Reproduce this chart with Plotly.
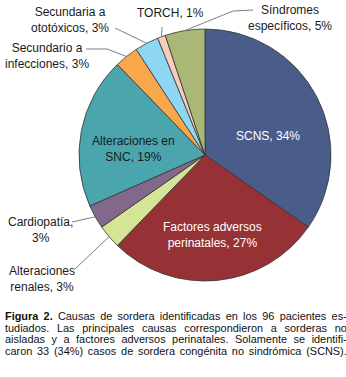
import math
import plotly.graph_objects as go

# ---- data ----
categories = ["SCNS", "Factores adversos perinatales", "Alteraciones renales", "Cardiopatía",
              "Alteraciones en SNC", "Secundario a infecciones", "Secundaria a ototóxicos",
              "TORCH", "Síndromes específicos"]
percent_values = [34, 27, 3, 3, 19, 3, 3, 1, 5]
label_texts = ["SCNS, 34%", "Factores adversos<br>perinatales, 27%", "Alteraciones<br>renales, 3%",
               "Cardiopatía,<br>3%", "Alteraciones en<br>SNC, 19%", "Secundario a<br>infecciones, 3%",
               "Secundaria a<br>ototóxicos, 3%", "TORCH, 1%", "Síndromes<br>específicos, 5%"]
caption_bold = ["Figura 2.", "", "", ""]
caption_lines = [
    "Causas de sordera identificadas en los 96 pacientes es-",
    "tudiados. Las principales causas correspondieron a sorderas no",
    "aisladas y a factores adversos perinatales. Solamente se identifi-",
    "caron 33 (34%) casos de sordera congénita no sindrómica (SCNS).",
]

# ---- styling / layout ----
W, H = 346, 377
colors = ["#4A5D8A", "#963236", "#D6E497", "#82698C", "#4AA5AD", "#F8A74B", "#8DD7F5",
          "#F9CDBE", "#A9B877"]
CX, CY, R = 205, 155, 126
font_family = "Liberation Sans, Arial, sans-serif"

label_pos = [(268, 136), (212, 235), (42, 279), (40, 230), (133, 149), (47, 56), (70, 20),
             (170, 13), (290, 18)]
label_col = ["white", "white", "#1a1a1a", "#1a1a1a", "#1a1a1a", "#1a1a1a", "#1a1a1a",
             "#1a1a1a", "#1a1a1a"]
leader_start = [None, None, [(75, 269)], [(72, 222)], None, [(86, 49), (107, 49)],
                [(115, 28)], [(162, 27)], [(253, 10), (233, 11)]]

# Arial / Liberation Sans advance widths (1/1000 em) for caption justification
_reg = {' ': 278, '(': 333, ')': 333, '%': 889, ',': 278, '-': 333, '.': 278,
        'C': 722, 'F': 611, 'L': 556, 'N': 722, 'S': 667,
        'a': 556, 'b': 556, 'c': 500, 'd': 556, 'e': 556, 'f': 278, 'g': 556, 'h': 556,
        'i': 222, 'j': 222, 'k': 500, 'l': 222, 'm': 833, 'n': 556, 'o': 556, 'p': 556,
        'q': 556, 'r': 333, 's': 500, 't': 278, 'u': 556, 'v': 500, 'w': 722, 'x': 500,
        'y': 500, 'z': 500, 'é': 556, 'ó': 556, 'í': 278}
_bold = {'F': 611, 'i': 278, 'g': 611, 'u': 611, 'r': 389, 'a': 556, ' ': 278, '.': 278}
CAP_SIZE = 10.9
CAP_LEFT, CAP_RIGHT = 3, 345


def text_w(s, table, size):
    return sum(table.get(c, 556 if not c.isdigit() else 556) for c in s) * size / 1000


def px(x):
    return x / W


def py(y):
    return 1 - y / H


fig = go.Figure(go.Pie(
    labels=categories, values=percent_values, sort=False, direction="clockwise",
    rotation=0, textinfo="none", hoverinfo="label+percent",
    marker=dict(colors=colors, line=dict(color="#333333", width=0.8)),
    domain=dict(x=[px(CX - R), px(CX + R)], y=[py(CY + R), py(CY - R)]),
    showlegend=False,
))

annotations = []
shapes = []
total = sum(percent_values)
cum = 0
for i, v in enumerate(percent_values):
    mid = (cum + v / 2) / total * 2 * math.pi
    cum += v
    tx = CX + R * math.sin(mid)
    ty = CY - R * math.cos(mid)
    lx, ly = label_pos[i]
    annotations.append(dict(
        x=px(lx), y=py(ly), xref="paper", yref="paper", text=label_texts[i],
        showarrow=False, xanchor="center", yanchor="middle", align="center",
        font=dict(family=font_family, size=12, color=label_col[i])))
    if leader_start[i]:
        pts = leader_start[i] + [(tx, ty)]
        path = "M " + " L ".join(f"{px(a):.5f},{py(b):.5f}" for a, b in pts)
        shapes.append(dict(type="path", path=path, xref="paper", yref="paper",
                           line=dict(color="#7f7f7f", width=1)))

cap_y = [316, 327.7, 339.4, 351.1]
for b, t, yy in zip(caption_bold, caption_lines, cap_y):
    full_b = (b + " ") if b else ""
    nat = text_w(full_b, _bold, CAP_SIZE) + text_w(t, _reg, CAP_SIZE)
    n_sp = full_b.count(" ") + t.count(" ")
    extra = max(-1.0, (CAP_RIGHT - CAP_LEFT - nat) / max(n_sp, 1))
    ws = f"word-spacing:{extra:.2f}px"
    parts = ""
    if b:
        parts += f"<span style='{ws}'><b>{b} </b></span>"
    parts += f"<span style='{ws}'>{t}</span>"
    annotations.append(dict(
        x=px(CAP_LEFT), y=py(yy), xref="paper", yref="paper", text=parts, showarrow=False,
        xanchor="left", yanchor="middle", align="left",
        font=dict(family=font_family, size=CAP_SIZE, color="#111111")))

fig.update_layout(
    width=W, height=H, margin=dict(l=0, r=0, t=0, b=0),
    paper_bgcolor="white", plot_bgcolor="white",
    annotations=annotations, shapes=shapes,
)
fig.write_html("out.html", config={"displayModeBar": False},
               post_script="document.body.style.margin='0';")
